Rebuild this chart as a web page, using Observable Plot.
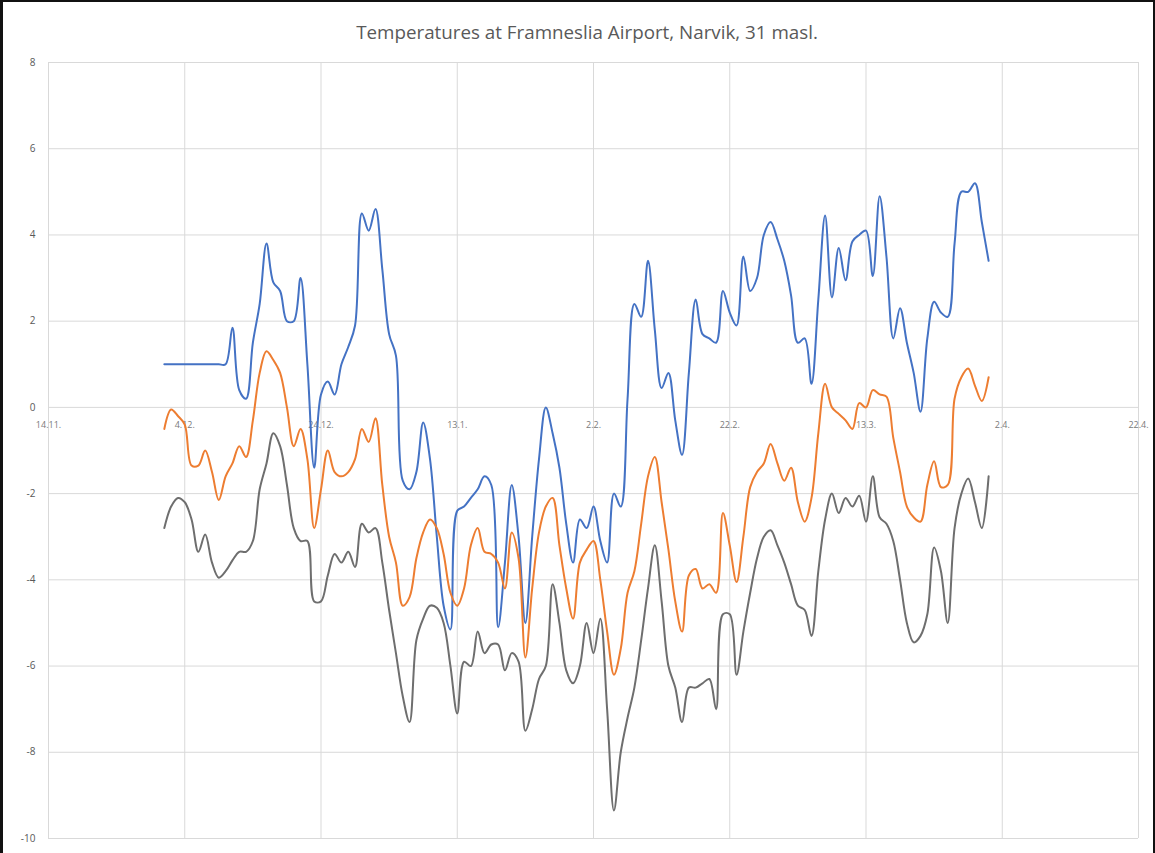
<!DOCTYPE html>
<html><head><meta charset="utf-8">
<script src="https://cdn.jsdelivr.net/npm/d3@7"></script>
<script src="https://cdn.jsdelivr.net/npm/@observablehq/plot@0.6"></script>
<style>
body{margin:0;background:#fff;}
#wrap{position:relative;width:1155px;height:853px;overflow:hidden;background:#fff;}
#title{position:absolute;left:27px;width:1120px;top:19px;line-height:26px;text-align:center;font:18.8px "Open Sans",sans-serif;color:#595959;}
#frame{position:absolute;left:0;top:0;width:1155px;height:853px;box-sizing:border-box;border-left:3px solid #111;border-top:2px solid #111;border-right:2px solid #111;pointer-events:none;}
#chart{position:absolute;left:0;top:0;}
</style></head>
<body>
<div id="wrap">
  <div id="chart"></div>
  <div id="title">Temperatures at Framneslia Airport, Narvik, 31 masl.</div>
  <div id="frame"></div>
</div>
<script>
// Daily values from 1 Dec 2023 to 31 Mar 2024
const startDate = "2023-12-01";
const maxSeries = [1.0,1.0,1.0,1.0,1.0,1.0,1.0,1.0,1.0,1.0,
  1.85,0.4,0.2,1.5,2.4,3.8,2.9,2.7,2.0,2.0,
  3.0,1.0,-1.4,0.3,0.6,0.3,1.0,1.4,1.9,4.5,
  4.1,4.6,3.2,1.7,1.2,-1.7,-1.9,-1.5,-0.35,-1.2,
  -3.0,-4.6,-5.15,-2.4,-2.3,-2.1,-1.9,-1.6,-1.8,-5.1,
  -3.6,-1.8,-3.0,-5.0,-3.0,-1.2,0.0,-0.6,-1.4,-2.7,
  -3.6,-2.6,-2.8,-2.3,-3.1,-3.6,-2.0,-2.3,0.2,2.4,
  2.1,3.4,1.8,0.45,0.8,-0.3,-1.1,0.8,2.5,1.7,
  1.6,1.5,2.7,2.2,1.9,3.5,2.7,3.0,4.0,4.3,
  3.9,3.4,2.6,1.5,1.6,0.55,2.5,4.45,2.55,3.7,
  2.95,3.85,4.0,4.1,3.05,4.9,3.5,1.6,2.3,1.5,
  0.8,-0.1,1.6,2.45,2.2,2.1,3.8,5.0,5.0,5.2,
  4.3,3.4];
const meanSeries = [-0.5,-0.05,-0.2,-0.4,-1.35,-1.35,-1.0,-1.5,-2.15,-1.6,
  -1.3,-0.9,-1.15,-0.3,0.8,1.3,1.1,0.8,0.0,-0.9,
  -0.5,-1.2,-2.8,-1.9,-1.0,-1.5,-1.6,-1.5,-1.2,-0.5,
  -0.8,-0.25,-1.8,-3.0,-3.6,-4.6,-4.4,-3.5,-2.9,-2.6,
  -2.8,-3.4,-4.3,-4.6,-4.2,-3.2,-2.8,-3.35,-3.4,-3.6,
  -4.2,-2.9,-3.5,-5.8,-4.2,-2.9,-2.3,-2.1,-3.2,-4.2,
  -4.9,-3.6,-3.3,-3.1,-4.0,-5.2,-6.2,-5.6,-4.3,-3.8,
  -2.7,-1.6,-1.15,-2.2,-3.3,-4.5,-5.2,-3.9,-3.75,-4.2,
  -4.1,-4.3,-2.45,-3.2,-4.05,-3.0,-1.85,-1.5,-1.3,-0.85,
  -1.3,-1.7,-1.4,-2.2,-2.65,-2.1,-0.6,0.55,0.0,-0.15,
  -0.3,-0.5,0.1,0.0,0.4,0.3,0.25,-0.7,-1.5,-2.3,
  -2.55,-2.65,-1.8,-1.25,-1.85,-1.8,0.2,0.7,0.9,0.5,
  0.15,0.7];
const minSeries = [-2.8,-2.3,-2.1,-2.2,-2.6,-3.35,-2.95,-3.6,-3.95,-3.8,
  -3.55,-3.35,-3.35,-3.1,-1.9,-1.3,-0.6,-0.9,-1.8,-2.8,
  -3.1,-3.1,-4.5,-4.5,-3.9,-3.4,-3.6,-3.35,-3.7,-2.7,
  -2.9,-2.8,-3.6,-4.7,-5.7,-6.7,-7.3,-5.4,-4.9,-4.6,
  -4.65,-5.0,-6.0,-7.1,-5.9,-6.0,-5.2,-5.7,-5.5,-5.5,
  -6.1,-5.7,-5.9,-7.5,-7.0,-6.3,-6.0,-4.1,-5.0,-6.1,
  -6.4,-6.0,-5.0,-5.7,-4.9,-7.0,-9.35,-8.0,-7.2,-6.5,
  -5.4,-4.2,-3.2,-4.5,-6.0,-6.5,-7.3,-6.5,-6.5,-6.4,
  -6.3,-7.0,-4.8,-4.8,-6.2,-5.2,-4.3,-3.5,-3.0,-2.85,
  -3.2,-3.6,-4.1,-4.6,-4.7,-5.3,-3.8,-2.6,-2.0,-2.45,
  -2.1,-2.3,-2.05,-2.65,-1.6,-2.55,-2.7,-3.1,-4.0,-5.0,
  -5.45,-5.3,-4.8,-3.25,-3.8,-5.0,-2.8,-2.0,-1.65,-2.2,
  -2.8,-1.6];
const seriesNames = ["Max", "Mean", "Min"];
const seriesColors = ["#4472C4", "#ED7D31", "#6e6e6e"];
const xTickDates = ["2023-11-14","2023-12-04","2023-12-24","2024-01-13","2024-02-02","2024-02-22","2024-03-13","2024-04-02","2024-04-22"];
const xTickLabels = ["14.11.","4.12.","24.12.","13.1.","2.2.","22.2.","13.3.","2.4.","22.4."];
const yTicks = [-10,-8,-6,-4,-2,0,2,4,6,8];

const start = new Date(startDate + "T00:00:00Z");
const rows = [];
[maxSeries, meanSeries, minSeries].forEach((arr, s) => {
  arr.forEach((v, i) => rows.push({series: seriesNames[s], date: d3.utcDay.offset(start, i), value: v}));
});
const tickDates = xTickDates.map(d => new Date(d + "T00:00:00Z"));

const chart = Plot.plot({
  width: 1155,
  height: 853,
  marginLeft: 48,
  marginRight: 17,
  marginTop: 62,
  marginBottom: 15,
  style: {fontFamily: "'Open Sans', sans-serif", background: "transparent"},
  x: {type: "utc", domain: [tickDates[0], tickDates[tickDates.length - 1]], axis: null},
  y: {domain: [-10, 8], axis: null},
  color: {domain: seriesNames, range: seriesColors},
  marks: [
    Plot.gridY(yTicks, {stroke: "#d9d9d9", strokeOpacity: 1}),
    Plot.gridX(tickDates, {stroke: "#d9d9d9", strokeOpacity: 1}),
    Plot.axisY(yTicks, {tickSize: 0, tickPadding: 13, fontSize: 10, fill: "#595959", label: null, tickFormat: d => String(d)}),
    Plot.text(tickDates, {x: d => d, y: () => 0, text: (d, i) => xTickLabels[i], dy: 18, fontSize: 9, fill: "#7a7a7a"}),
    Plot.line(rows, {x: "date", y: "value", z: "series", stroke: "series", strokeWidth: 2, curve: "catmull-rom"})
  ]
});
document.getElementById("chart").appendChild(chart);
</script>
</body></html>
